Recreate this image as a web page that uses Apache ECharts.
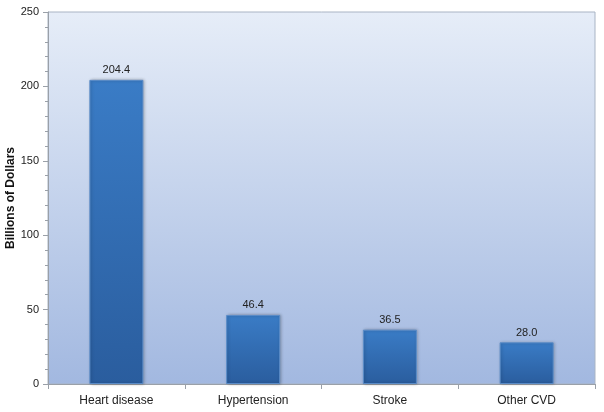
<!DOCTYPE html>
<html><head><meta charset="utf-8">
<script src="https://cdn.jsdelivr.net/npm/echarts@6/dist/echarts.min.js"></script>
<style>html,body{margin:0;padding:0;background:#fff}#c{width:604px;height:412px}</style>
</head><body><div id="c"></div>
<script>
var categories = ['Heart disease', 'Hypertension', 'Stroke', 'Other CVD'];
var values = [204.4, 46.4, 36.5, 28.0];
var yTicks = [0, 50, 100, 150, 200, 250];

var chart = echarts.init(document.getElementById('c'));
chart.setOption({
  animation: false,
  grid: {left: 48, right: 9, top: 12, bottom: 28, containLabel: false, outerBoundsMode: 'none',
    show: true, borderColor: '#a9b4c4', borderWidth: 1,
    backgroundColor: new echarts.graphic.LinearGradient(0, 0, 0, 1, [
      {offset: 0, color: '#e6edf8'}, {offset: 1, color: '#a2b8e0'}])},
  xAxis: {type: 'category', data: categories,
    axisLine: {lineStyle: {color: '#9aa0a8'}},
    axisTick: {show: true, length: 5, lineStyle: {color: '#9aa0a8'}},
    axisLabel: {color: '#222', fontFamily: 'Liberation Sans, Arial', fontSize: 12, margin: 11}},
  yAxis: {type: 'value', min: yTicks[0], max: yTicks[yTicks.length - 1], interval: 50,
    name: 'Billions of Dollars', nameLocation: 'middle', nameGap: 31, nameMoveOverlap: false,
    nameTextStyle: {fontWeight: 'bold', fontSize: 12, color: '#111', fontFamily: 'Liberation Sans, Arial'},
    axisLine: {show: true, lineStyle: {color: '#9aa0a8'}},
    axisTick: {show: true, length: 5, lineStyle: {color: '#9aa0a8'}},
    minorTick: {show: true, splitNumber: 5, length: 3, lineStyle: {color: '#9aa0a8'}},
    splitLine: {show: false},
    axisLabel: {color: '#222', fontFamily: 'Liberation Sans, Arial', fontSize: 11, margin: 9}},
  series: [{type: 'bar', data: values, barWidth: 54,
    itemStyle: {
      color: new echarts.graphic.LinearGradient(0, 0, 0, 1, [
        {offset: 0, color: '#3a7cc6'}, {offset: 1, color: '#2a5d9e'}]),
      borderColor: '#5a8cc8', borderWidth: 1,
      shadowColor: 'rgba(0,0,0,0.25)', shadowBlur: 3, shadowOffsetX: 1, shadowOffsetY: 0},
    label: {show: true, position: 'top', distance: 4, color: '#222', fontSize: 11,
      fontFamily: 'Liberation Sans, Arial', formatter: function (p) { return p.value.toFixed(1); }}
  }]
});
</script></body></html>
